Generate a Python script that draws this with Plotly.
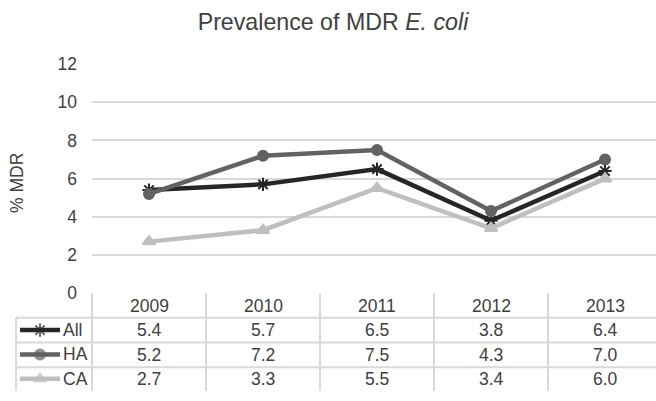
import plotly.graph_objects as go

# Survey years and MDR prevalence (%) by setting
years = ["2009", "2010", "2011", "2012", "2013"]
series_names = ["All", "HA", "CA"]
all_vals = [5.4, 5.7, 6.5, 3.8, 6.4]
ha_vals = [5.2, 7.2, 7.5, 4.3, 7.0]
ca_vals = [2.7, 3.3, 5.5, 3.4, 6.0]
y_ticks = [0, 2, 4, 6, 8, 10, 12]

series_vals = [all_vals, ha_vals, ca_vals]
colors = ["#262626", "#626262", "#bfbfbf"]
symbols = ["asterisk-open", "circle", "triangle-up"]
msizes = [11, 10, 11]

W, H = 656, 401
FONT = "Liberation Sans, Arial, sans-serif"
FS = 17.5
TXT = "#404040"
GRID = "#d9d9d9"

# pixel layout helpers (paper = 16..656 horizontally, full height vertically)
ML = 16
PW = W - ML


def px_x(p):
    return (p - ML) / PW


def px_y(p):
    return (H - p) / H


plot_left, plot_top, plot_bottom = 92, 57, 298
header_center = 312
row_edges = [324, 350, 376, 401]
row_centers = [(row_edges[i] + row_edges[i + 1]) / 2 for i in range(3)]

fig = go.Figure()

for name, vals, c, s, ms in zip(series_names, series_vals, colors, symbols, msizes):
    fig.add_trace(go.Scatter(
        x=years, y=vals, name=name, mode="lines+markers",
        line=dict(color=c, width=4.5),
        marker=dict(symbol=s, size=ms, color=c, line=dict(color=c, width=2)),
        showlegend=False, cliponaxis=False,
    ))

# legend keys inside the data table's first column
for i, (name, c, s, ms) in enumerate(zip(series_names, colors, symbols, msizes)):
    r = 2.5 - i
    fig.add_trace(go.Scatter(
        x=[20, 40, 60], y=[r, r, r], mode="lines+markers",
        line=dict(color=c, width=4.5),
        marker=dict(symbol=s, size=[0, ms, 0], color=c, line=dict(color=c, width=2)),
        xaxis="x2", yaxis="y2", showlegend=False, hoverinfo="skip",
    ))
    fig.add_annotation(x=61, y=r, xref="x2", yref="y2", text=name,
                       showarrow=False, xanchor="left", yanchor="middle",
                       font=dict(family=FONT, size=FS, color=TXT))

# table header: year per category column
for j, yr in enumerate(years):
    fig.add_annotation(x=j, y=px_y(header_center), xref="x", yref="paper",
                       text=yr, showarrow=False,
                       xanchor="center", yanchor="middle",
                       font=dict(family=FONT, size=FS, color=TXT))

# data table values (category index positions on the x axis)
for i, vals in enumerate(series_vals):
    for j, v in enumerate(vals):
        fig.add_annotation(x=j, y=px_y(row_centers[i]), xref="x", yref="paper",
                           text=f"{v:.1f}", showarrow=False,
                           xanchor="center", yanchor="middle",
                           font=dict(family=FONT, size=FS, color=TXT))

# table grid lines
line = dict(color=GRID, width=2)
for e in row_edges[:-1]:
    fig.add_shape(type="line", xref="paper", yref="paper", x0=0, x1=1,
                  y0=px_y(e), y1=px_y(e), line=line)
fig.add_shape(type="line", xref="paper", yref="paper", x0=0, x1=0,
              y0=px_y(row_edges[0]), y1=0, line=line)
fig.add_shape(type="line", xref="paper", yref="paper", x0=px_x(plot_left), x1=px_x(plot_left),
              y0=px_y(plot_bottom), y1=0, line=line)
for k in range(len(years) - 1):
    fig.add_shape(type="line", xref="x", yref="paper", x0=k + 0.5, x1=k + 0.5,
                  y0=px_y(plot_bottom), y1=0, line=line)

fig.add_annotation(text="% MDR", textangle=-90, xref="paper", yref="paper",
                   x=px_x(17), y=px_y(182), showarrow=False,
                   xanchor="center", yanchor="middle",
                   font=dict(family=FONT, size=FS, color=TXT))

fig.update_layout(
    width=W, height=H,
    margin=dict(l=ML, r=0, t=0, b=0),
    paper_bgcolor="white", plot_bgcolor="white",
    title=dict(text="Prevalence of MDR <i>E. coli</i>", x=333 / W, xref="container",
               xanchor="center", y=1 - 22 / H, yref="container", yanchor="middle",
               font=dict(family=FONT, size=23.2, color=TXT)),
    xaxis=dict(domain=[px_x(plot_left), 1], type="category",
               range=[-0.5, 4.5 - 6 / 114], showgrid=False, zeroline=False,
               showline=False, ticks="", showticklabels=False),
    yaxis=dict(domain=[px_y(plot_bottom), px_y(plot_top)], range=[0, 12],
               tickvals=y_ticks, showgrid=True, gridcolor=GRID, gridwidth=2,
               zeroline=False, showline=False, ticks="", ticklabelstandoff=14,
               tickfont=dict(family=FONT, size=FS, color=TXT)),
    xaxis2=dict(domain=[0, px_x(plot_left)], range=[16, 92], anchor="y2",
                visible=False, fixedrange=True),
    yaxis2=dict(domain=[0, px_y(row_edges[0])], range=[0, 3], anchor="x2",
                visible=False, fixedrange=True),
)

fig.write_html("out.html")
